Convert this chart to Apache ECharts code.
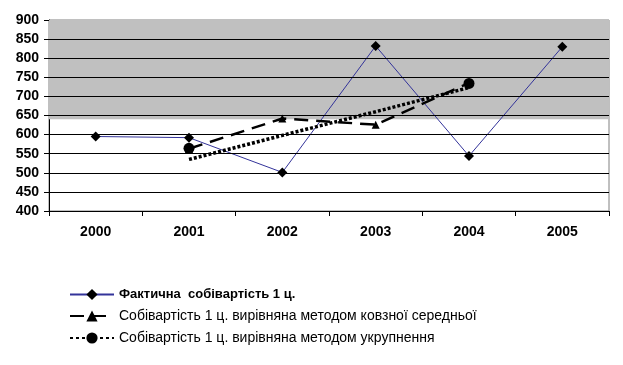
<!DOCTYPE html>
<html><head><meta charset="utf-8">
<script src="https://cdn.jsdelivr.net/npm/echarts@6/dist/echarts.min.js"></script>
<style>html,body{margin:0;padding:0;background:#fff}#c{width:623px;height:365px}</style>
</head><body><div id="c"></div>
<script>
const years = ['2000','2001','2002','2003','2004','2005'];
const actualCost = [595, 592, 501, 832, 544, 830];
const movingAvg = [null, 563, 642, 626, 735, null];
const enlargedTrend = [null, 535, 598, 660, 723, null];
const enlargedPoints = [null, 564, null, null, 734, null];
const yTicks = {min: 400, max: 900, interval: 50};
const gridValues = [450, 500, 550, 600, 650, 700, 750, 800, 850];
const shadeRange = [640, 900];
const names = [
  'Фактична  собівартість 1 ц.',
  'Собівартість 1 ц. вирівняна методом ковзної середньої',
  'Собівартість 1 ц. вирівняна методом укрупнення'
];

const font = '"Liberation Sans", Arial, sans-serif';
const chart = echarts.init(document.getElementById('c'), null, {renderer: 'canvas'});
chart.setOption({
  animation: false,
  backgroundColor: '#fff',
  grid: {left: 49, right: 14, top: 20, bottom: 154, show: true, borderColor: '#808080', borderWidth: 1, backgroundColor: 'transparent'},
  legend: {
    orient: 'vertical', left: 64, top: 283, itemGap: 8, itemWidth: 44, itemHeight: 14,
    data: [names[0], names[1], names[2]],
    textStyle: {fontFamily: font, color: '#000', fontSize: 14,
      rich: {b: {fontFamily: font, fontSize: 13, fontWeight: 'bold', color: '#000'}}},
    formatter: function (n) { return n === names[0] ? '{b|' + n + '}' : n; }
  },
  xAxis: {
    type: 'category', data: years, boundaryGap: true,
    axisLine: {lineStyle: {color: '#000', width: 1}},
    axisTick: {show: true, alignWithLabel: false, length: 5, lineStyle: {color: '#000'}},
    axisLabel: {fontFamily: font, fontSize: 14, fontWeight: 'bold', color: '#000', margin: 14},
    splitLine: {show: false}
  },
  yAxis: {
    type: 'value', min: yTicks.min, max: yTicks.max, interval: yTicks.interval,
    axisLine: {show: true, lineStyle: {color: '#000', width: 1}},
    axisTick: {show: true, length: 5, lineStyle: {color: '#000'}},
    axisLabel: {fontFamily: font, fontSize: 14, fontWeight: 'bold', color: '#000', margin: 10},
    splitLine: {show: false}
  },
  series: [
    {
      name: 'shade', type: 'line', data: [], z: 1, silent: true,
      markArea: {silent: true, itemStyle: {color: '#c0c0c0'},
        data: [[{yAxis: shadeRange[0]}, {yAxis: shadeRange[1]}]]},
      markLine: {silent: true, symbol: 'none', label: {show: false},
        lineStyle: {color: '#000', width: 1, type: 'solid'},
        data: gridValues.map(v => ({yAxis: v}))}
    },
    {
      name: names[0], type: 'line', data: actualCost, z: 3,
      symbol: 'diamond', symbolSize: 10,
      lineStyle: {color: '#33339a', width: 1},
      itemStyle: {color: '#000'}
    },
    {
      name: names[1], type: 'line', data: movingAvg, z: 4,
      symbol: 'triangle', symbolSize: 8, connectNulls: false,
      lineStyle: {color: '#000', width: 2.5, type: [14, 8]},
      itemStyle: {color: '#000'}
    },
    {
      name: names[2], type: 'line', data: enlargedPoints, z: 5,
      symbol: 'circle', symbolSize: 11,
      lineStyle: {color: '#000', width: 3.5, type: [3, 3]},
      itemStyle: {color: '#000'}
    },
    {
      name: 'trend', type: 'line', data: enlargedTrend, z: 5, silent: true,
      symbol: 'none',
      lineStyle: {color: '#000', width: 3.5, type: [3, 2]}
    }
  ]
});
</script></body></html>
